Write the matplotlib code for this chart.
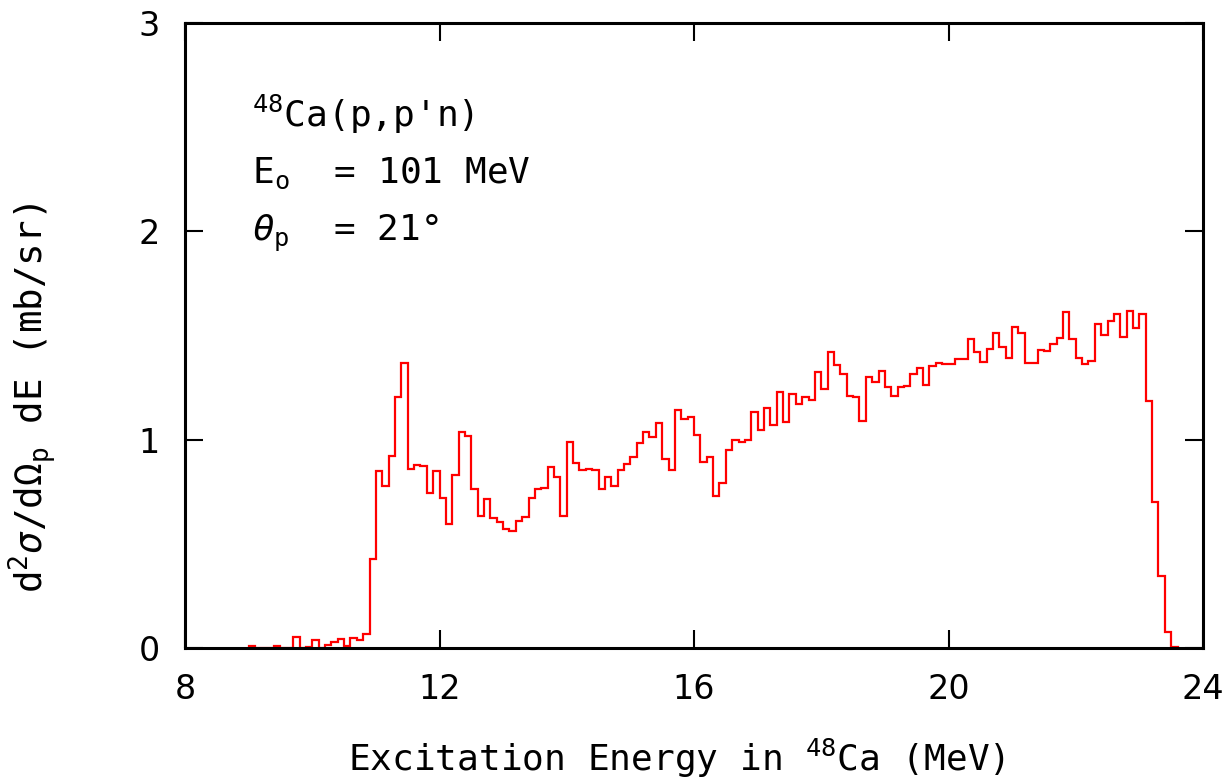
import numpy as np
import matplotlib
matplotlib.use("Agg")
import matplotlib.pyplot as plt

# Histogram: bin width 0.1 MeV starting at 9.0 MeV
bin_start = 9.0
bin_width = 0.1
values = [
    0.01, 0.0, 0.0, 0.0, 0.01, 0.0, 0.0, 0.054, 0.0, 0.005,          # 9.0-9.9
    0.037, 0.0, 0.014, 0.029, 0.043, 0.01, 0.05, 0.04, 0.067, 0.426,  # 10.0-10.9
    0.85, 0.78, 0.922, 1.207, 1.37, 0.861, 0.879, 0.874, 0.743, 0.85, # 11.0-11.9
    0.719, 0.594, 0.832, 1.035, 1.016, 0.763, 0.634, 0.717, 0.622, 0.605,  # 12.x
    0.57, 0.56, 0.608, 0.63, 0.72, 0.763, 0.766, 0.867, 0.823, 0.634,  # 13.x
    0.989, 0.89, 0.855, 0.86, 0.855, 0.763, 0.823, 0.778, 0.855, 0.882,  # 14.x
    0.915, 0.982, 1.037, 1.013, 1.082, 0.906, 0.855, 1.144, 1.098, 1.11,  # 15.x
    1.023, 0.895, 0.915, 0.73, 0.794, 0.951, 0.999, 0.987, 0.999, 1.133,  # 16.x
    1.047, 1.151, 1.071, 1.227, 1.087, 1.219, 1.17, 1.203, 1.19, 1.323,   # 17.x
    1.242, 1.421, 1.36, 1.315, 1.21, 1.203, 1.091, 1.3, 1.275, 1.33,      # 18.x
    1.251, 1.211, 1.255, 1.26, 1.314, 1.346, 1.261, 1.354, 1.37, 1.363,   # 19.x
    1.363, 1.386, 1.386, 1.485, 1.423, 1.375, 1.435, 1.514, 1.447, 1.391, # 20.x
    1.539, 1.514, 1.367, 1.367, 1.429, 1.424, 1.459, 1.487, 1.613, 1.483, # 21.x
    1.394, 1.362, 1.378, 1.555, 1.503, 1.57, 1.602, 1.491, 1.618, 1.538,  # 22.x
    1.602, 1.187, 0.701, 0.346, 0.077, 0.003,                             # 23.0-23.5
]
edges = np.round(bin_start + bin_width * np.arange(len(values) + 1), 2)

x_ticks = [8, 12, 16, 20, 24]
y_ticks = [0, 1, 2, 3]

MONO = 'DejaVu Sans Mono'
plt.rcParams['font.family'] = ['DejaVu Sans']
plt.rcParams['mathtext.fontset'] = 'custom'
plt.rcParams['mathtext.rm'] = MONO
plt.rcParams['mathtext.it'] = MONO + ':italic'
plt.rcParams['mathtext.bf'] = MONO + ':bold'

fig = plt.figure(figsize=(12.3, 7.81), dpi=100)
ax = fig.add_axes([185/1230, 1 - 648/781, (1203-185)/1230, (648-23)/781])

ax.stairs(values, edges, color='red', linewidth=1.6, baseline=0, zorder=2)

ax.set_xlim(8, 24)
ax.set_ylim(0, 3)
ax.set_xticks(x_ticks)
ax.set_yticks(y_ticks)
ax.tick_params(direction='in', length=13, width=1.5, top=True, right=True,
               labelsize=24, pad=18)
for s in ax.spines.values():
    s.set_linewidth(2.2)
    s.set_zorder(3)

ax.set_xlabel(r'Excitation Energy in $^{48}$Ca (MeV)', fontsize=26, family=MONO)
ax.set_ylabel(r'd$^2\sigma$/d$\Omega_{\rm p}$ dE (mb/sr)', fontsize=27, family=MONO)
ax.xaxis.set_label_coords(0.483, -0.142)
ax.yaxis.set_label_coords(-0.125, 0.40)

ax.text(9.05, 2.56, r'$^{48}$Ca(p,p'+"'"+'n)', fontsize=26, family=MONO,
        va='center', ha='left')
ax.text(9.05, 2.28, r'E$_{\rm o}$  = 101 MeV', fontsize=26, family=MONO,
        va='center', ha='left')
ax.text(9.05, 1.99, r'$\theta_{\rm p}$  = 21°', fontsize=26, family=MONO,
        va='center', ha='left')

fig.savefig('out.png', dpi=100)
